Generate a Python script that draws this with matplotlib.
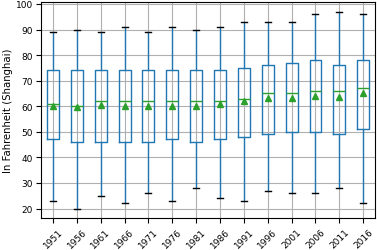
import matplotlib
matplotlib.use("Agg")
import matplotlib.pyplot as plt

years = [1951, 1956, 1961, 1966, 1971, 1976, 1981, 1986, 1991, 1996, 2001, 2006, 2011, 2016]
whislo = [23, 20, 25, 22, 26, 23, 28, 24, 23, 27, 26, 26, 28, 22]
q1 = [47, 46, 46, 46, 46, 47, 46, 47, 48, 49, 50, 50, 49, 51]
med = [60.7, 60, 62, 62, 62, 62, 62, 62, 63, 65, 65, 66, 66, 67]
q3 = [74, 74, 74, 74, 74, 74, 74, 74, 75, 76, 77, 78, 76, 78]
whishi = [89, 90, 89, 91, 89, 91, 90, 91, 93, 93, 93, 96, 97, 96]
means = [60.2, 59.6, 60.3, 60.0, 60.0, 60.0, 60.2, 61.0, 62.0, 63.2, 63.2, 64.1, 63.6, 65.1]

stats = []
for i, y in enumerate(years):
    stats.append(dict(label=str(y), whislo=whislo[i], q1=q1[i], med=med[i],
                      q3=q3[i], whishi=whishi[i], mean=means[i], fliers=[]))

fig = plt.figure(figsize=(3.77, 2.51), dpi=100)
ax = fig.add_axes([0.109, 0.126, 0.886, 0.863])
ax.bxp(stats, showmeans=True, widths=0.5,
       boxprops=dict(color="C0"),
       whiskerprops=dict(color="C0"),
       capprops=dict(color="k"),
       medianprops=dict(color="C2"),
       meanprops=dict(marker="^", markerfacecolor="C2", markeredgecolor="C2", markersize=5))
ax.grid(True, color="#b0b0b0", linewidth=0.8)
ax.set_axisbelow(True)
ax.set_ylabel("In Fahrenheit (Shanghai)", fontsize=7.3, labelpad=2)
ax.tick_params(labelsize=6.5, pad=2.5)
plt.setp(ax.get_xticklabels(), rotation=45)
fig.savefig("out.png", dpi=100)
